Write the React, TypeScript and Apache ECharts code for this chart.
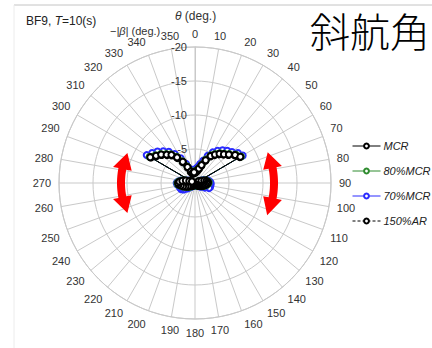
import React, { useEffect, useRef } from "react";
import * as echarts from "echarts";

// Heading angle θ (deg.), every 5 degrees
const headings = [
  0, 5, 10, 15, 20, 25, 30, 35, 40, 45, 50, 55,
  60, 65, 70, 75, 80, 85, 90, 95, 100, 105, 110, 115,
  120, 125, 130, 135, 140, 145, 150, 155, 160, 165, 170, 175,
  180, 185, 190, 195, 200, 205, 210, 215, 220, 225, 230, 235,
  240, 245, 250, 255, 260, 265, 270, 275, 280, 285, 290, 295,
  300, 305, 310, 315, 320, 325, 330, 335, 340, 345, 350, 355,
];

// -|β| (deg.) per heading
const mcr = [
  -1.6, -1.7, -1.9, -2.2, -2.8, -3.7, -4.6, -5.1, -5.6, -6.0, -6.5, -7.2,
  -7.7, -0.6, -1.0, -1.4, -1.7, -1.9, -1.9, -1.8, -1.6, -1.4, -1.2, -1.0,
  -0.8, -0.7, -0.6, -0.5, -0.4, -0.4, -0.3, -0.3, -0.3, -0.3, -0.3, -0.3,
  -0.3, -0.3, -0.3, -0.3, -0.3, -0.3, -0.4, -0.4, -0.5, -0.6, -0.7, -0.8,
  -1.0, -1.2, -1.5, -1.8, -2.1, -2.4, -2.5, -2.3, -1.9, -1.4, -0.9, -0.5,
  -7.6, -7.0, -6.5, -5.9, -5.4, -4.6, -3.6, -2.6, -1.8, -1.5, -1.5, -1.6,
];

const mcr80 = [
  -1.7, -1.8, -2.0, -2.3, -2.9, -3.8, -4.7, -5.2, -5.7, -6.1, -6.6, -7.3,
  -7.8, -0.6, -1.1, -1.5, -1.8, -2.0, -2.0, -1.9, -1.7, -1.5, -1.3, -1.1,
  -0.9, -0.7, -0.6, -0.5, -0.5, -0.4, -0.4, -0.3, -0.3, -0.3, -0.3, -0.3,
  -0.3, -0.3, -0.3, -0.3, -0.3, -0.4, -0.4, -0.5, -0.5, -0.6, -0.8, -0.9,
  -1.1, -1.3, -1.6, -1.9, -2.2, -2.5, -2.6, -2.4, -2.0, -1.5, -1.0, -0.6,
  -7.7, -7.1, -6.6, -6.0, -5.5, -4.7, -3.7, -2.7, -1.9, -1.6, -1.6, -1.7,
];

const mcr70 = [
  -2.0, -2.1, -2.4, -2.9, -3.5, -4.4, -5.2, -5.8, -6.3, -6.7, -7.1, -7.7,
  -8.1, -0.8, -1.3, -1.7, -2.0, -2.2, -2.3, -2.3, -2.3, -2.3, -2.2, -1.6,
  -1.1, -0.9, -0.7, -0.6, -0.5, -0.4, -0.4, -0.4, -0.4, -0.4, -0.4, -0.4,
  -0.4, -0.4, -0.4, -0.4, -0.4, -0.4, -0.5, -0.5, -0.6, -0.8, -1.0, -1.4,
  -1.9, -2.2, -2.3, -2.3, -2.4, -2.6, -2.7, -2.5, -2.1, -1.6, -1.1, -0.7,
  -8.2, -7.7, -7.2, -6.6, -6.0, -5.2, -4.2, -3.1, -2.2, -1.9, -1.8, -1.9,
];

const ar150 = [
  -1.5, -1.6, -1.8, -2.1, -2.7, -3.6, -4.5, -5.0, -5.5, -5.9, -6.4, -7.1,
  -7.6, -0.5, -0.9, -1.3, -1.6, -1.8, -1.8, -1.7, -1.5, -1.3, -1.1, -0.9,
  -0.7, -0.6, -0.5, -0.4, -0.4, -0.3, -0.3, -0.3, -0.2, -0.2, -0.2, -0.2,
  -0.2, -0.2, -0.2, -0.2, -0.3, -0.3, -0.3, -0.4, -0.4, -0.5, -0.6, -0.7,
  -0.9, -1.1, -1.4, -1.7, -2.0, -2.3, -2.4, -2.2, -1.8, -1.3, -0.8, -0.4,
  -7.5, -6.9, -6.4, -5.8, -5.3, -4.5, -3.5, -2.5, -1.7, -1.4, -1.4, -1.5,
];

const seriesNames = ["MCR", "80%MCR", "70%MCR", "150%AR"];
const radiusMin = -20;
const radiusMax = 0;
const radiusStep = 5;
const angleStep = 10;

const FONT = "'Liberation Sans', Arial, sans-serif";
const GRID = "#c9c9c9";
const CX = 195;
const CY = 183;
const R = 136;

function arrowPoints(
  r: number,
  tip1: number,
  base1: number,
  base2: number,
  tip2: number,
  w: number,
  hw: number
) {
  const pt = (rr: number, a: number) => {
    const t = (a * Math.PI) / 180;
    return [CX + rr * Math.sin(t), CY - rr * Math.cos(t)];
  };
  const pts: number[][] = [];
  const n = 16;
  pts.push(pt(r, tip1));
  pts.push(pt(r + hw, base1));
  pts.push(pt(r + w, base1));
  for (let k = 1; k < n; k++) pts.push(pt(r + w, base1 + ((base2 - base1) * k) / n));
  pts.push(pt(r + w, base2));
  pts.push(pt(r + hw, base2));
  pts.push(pt(r, tip2));
  pts.push(pt(r - hw, base2));
  pts.push(pt(r - w, base2));
  for (let k = n - 1; k >= 1; k--) pts.push(pt(r - w, base1 + ((base2 - base1) * k) / n));
  pts.push(pt(r - w, base1));
  pts.push(pt(r - hw, base1));
  return pts;
}

export default function App() {
  const ref = useRef<HTMLDivElement>(null);

  useEffect(() => {
    if (!ref.current) return;
    const chart = echarts.init(ref.current, null, { renderer: "svg" });

    const mk = (name: string, vals: number[], color: string, dashed = false, z = 2) => ({
      type: "line",
      name,
      coordinateSystem: "polar",
      data: headings.map((h, i) => [vals[i], h]),
      symbol: "emptyCircle",
      symbolSize: 6,
      z,
      lineStyle: { color, width: 1, type: dashed ? [3, 2] : "solid" },
      itemStyle: { color, borderColor: color, borderWidth: 1 },
    });

    chart.setOption({
      animation: false,
      backgroundColor: "#ffffff",
      polar: { center: [CX, CY], radius: R },
      angleAxis: {
        type: "value",
        min: 0,
        max: 360,
        interval: angleStep,
        startAngle: 90,
        clockwise: true,
        axisLine: { show: true, lineStyle: { color: GRID, width: 1 } },
        axisTick: { show: false },
        axisLabel: {
          color: "#333",
          fontSize: 11,
          fontFamily: FONT,
          margin: 8,
          formatter: (v: number) => (v === 360 ? "" : String(v)),
        },
        splitLine: { show: true, lineStyle: { color: GRID, width: 1 } },
      },
      radiusAxis: {
        type: "value",
        min: radiusMin,
        max: radiusMax,
        interval: radiusStep,
        inverse: true,
        axisLine: { show: true, lineStyle: { color: GRID } },
        axisTick: { show: false },
        axisLabel: {
          color: "#333",
          fontSize: 11,
          fontFamily: FONT,
          formatter: (v: number) => (v === 0 ? "" : String(v)),
        },
        splitLine: { show: true, lineStyle: { color: GRID, width: 1 } },
      },
      legend: {
        orient: "vertical",
        left: 352,
        top: 139,
        padding: 0,
        itemWidth: 28,
        itemHeight: 6,
        itemGap: 11,
        data: seriesNames,
        lineStyle: { width: 1 },
        textStyle: {
          fontSize: 11,
          fontStyle: "italic",
          color: "#222",
          fontFamily: FONT,
          padding: [0, 0, 0, -2],
          lineHeight: 14,
        },
      },
      series: [
        mk("70%MCR", mcr70, "#2a2aff", false, 2),
        mk("80%MCR", mcr80, "#2e8b2e", false, 3),
        mk("150%AR", ar150, "#000000", true, 4),
        mk("MCR", mcr, "#000000", false, 5),
      ],
      graphic: [
        {
          type: "line",
          shape: { x1: 14, y1: 5, x2: 432, y2: 5 },
          style: { stroke: "#c4c4c4", lineWidth: 1 },
          silent: true,
        },
        {
          type: "line",
          shape: { x1: 14, y1: 5, x2: 14, y2: 348 },
          style: { stroke: "#ececec", lineWidth: 1 },
          silent: true,
        },
        {
          type: "text",
          left: 26,
          top: 15,
          style: {
            text: "{a|BF9, }{b|T}{a|=10(s)}",
            rich: {
              a: { fontSize: 12, fontFamily: FONT, fill: "#222" },
              b: { fontSize: 12, fontFamily: FONT, fill: "#222", fontStyle: "italic" },
            },
          },
        },
        {
          type: "text",
          left: 110,
          top: 25,
          style: {
            text: "{a|−}{b||β|}{a| (deg.)}",
            rich: {
              a: { fontSize: 11, fontFamily: FONT, fill: "#333" },
              b: { fontSize: 11, fontFamily: FONT, fill: "#333", fontStyle: "italic" },
            },
          },
        },
        {
          type: "text",
          left: 175,
          top: 10,
          style: {
            text: "{b|θ}{a| (deg.)}",
            rich: {
              a: { fontSize: 12, fontFamily: FONT, fill: "#333" },
              b: { fontSize: 12, fontFamily: FONT, fill: "#333", fontStyle: "italic" },
            },
          },
        },
        {
          type: "text",
          left: 310,
          top: 10,
          style: {
            text: "斜航角",
            fontSize: 40,
            fontFamily: "'Noto Sans CJK JP', 'Noto Sans CJK SC', sans-serif",
            fontWeight: 300,
            fill: "#000",
          },
        },
        {
          type: "polygon",
          shape: { points: arrowPoints(74, 294, 281, 259, 246, 4, 9.5) },
          style: { fill: "#ff0000" },
          z: 100,
        },
        {
          type: "polygon",
          shape: { points: arrowPoints(79, 67, 79, 101, 114, 4, 9.5) },
          style: { fill: "#ff0000" },
          z: 100,
        },
      ],
    });

    return () => chart.dispose();
  }, []);

  return (
    <div
      ref={ref}
      style={{ position: "absolute", left: 0, top: 0, width: 432, height: 348, background: "#fff" }}
    />
  );
}
